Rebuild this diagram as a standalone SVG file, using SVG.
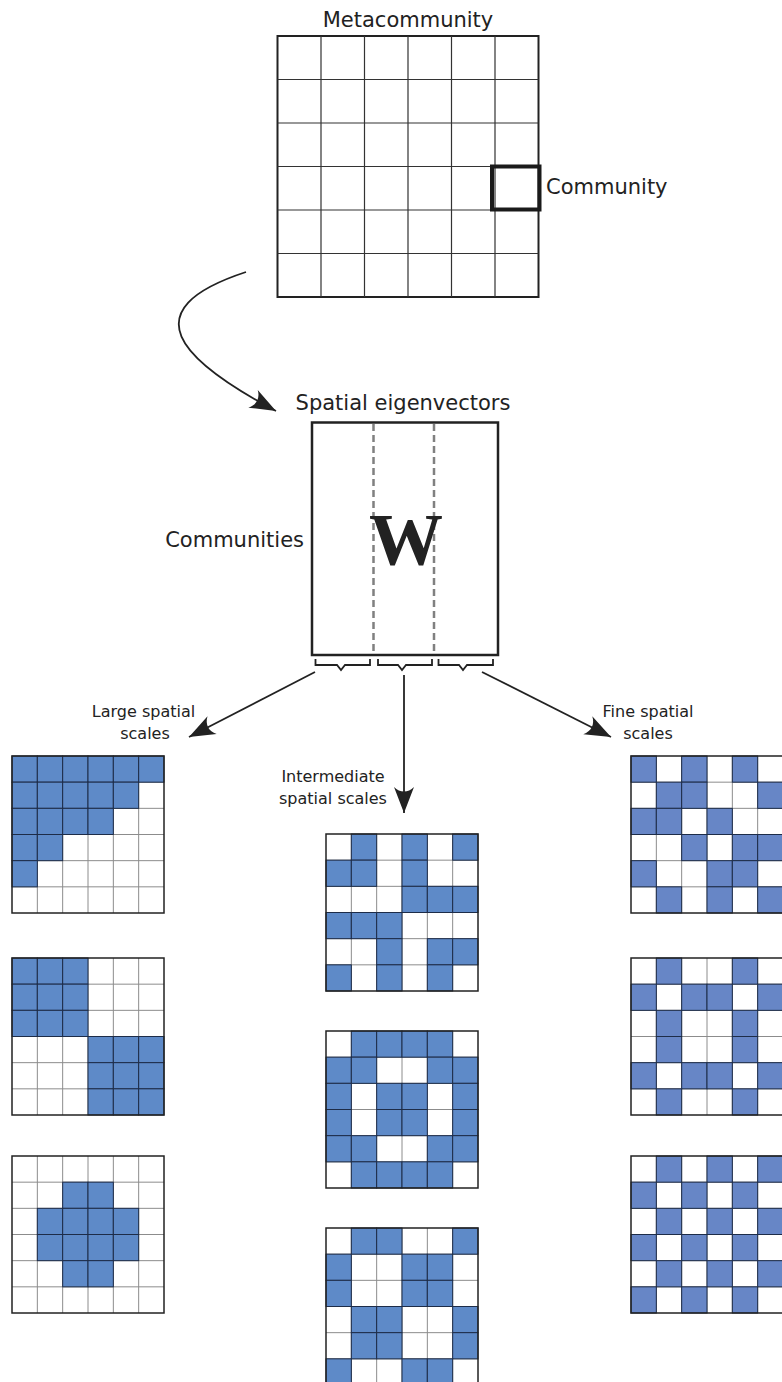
<svg xmlns="http://www.w3.org/2000/svg" xmlns:xlink="http://www.w3.org/1999/xlink" width="782" height="1382" viewBox="0 0 782 1382">
<style>
  .t { font-family: "DejaVu Sans", "Liberation Sans", sans-serif; fill: #222; }
  .lbl { font-size: 21px; }
  .sm { font-size: 16px; text-anchor: middle; }
  .mg { stroke: #333; stroke-width: 1.2; fill: none; }
  .gl { stroke: #8c8c8c; stroke-width: 1; fill: none; }
  .bdr { fill: none; stroke: #222; stroke-width: 1.5; }
  .bg { fill: #fff; }
  .bl use { fill: #5e8ac8; stroke: #1d2c48; stroke-width: 1; }
  .br use { fill: #6786c6; stroke: #1d2c48; stroke-width: 1; }
  .conn { stroke: #222; stroke-width: 1.8; fill: none; }
  .brace { stroke: #222; stroke-width: 1.8; fill: none; stroke-linejoin: miter; }
</style>
<defs>
  <marker id="ah" viewBox="-27 -11 28 22" refX="0" refY="0" markerWidth="28" markerHeight="22" markerUnits="userSpaceOnUse" orient="auto">
    <path d="M0,0 L-26,-10 C-20,-4 -20,4 -26,10 Z" fill="#222"/>
  </marker>
  <rect id="c" width="25.33" height="26.17"/>
  <path id="gridlines" d="M25.33,0V157M50.67,0V157M76,0V157M101.33,0V157M126.67,0V157M0,26.17H152M0,52.33H152M0,78.5H152M0,104.67H152M0,130.83H152"/>
</defs>

<g id="metacommunity">
  <text class="t lbl" x="408" y="27" text-anchor="middle">Metacommunity</text>
  <rect x="277.5" y="36" width="261" height="261" fill="#fff" stroke="#222" stroke-width="2"/>
  <path class="mg" d="M321,36V297M364.5,36V297M408,36V297M451.5,36V297M495,36V297M277.5,79.5H538.5M277.5,123H538.5M277.5,166.5H538.5M277.5,210H538.5M277.5,253.5H538.5"/>
</g>

<g id="community">
  <rect x="492" y="166.5" width="47.5" height="43" fill="none" stroke="#1a1a1a" stroke-width="4"/>
  <text class="t lbl" x="546" y="194">Community</text>
</g>

<g id="eigenvectors">
  <text class="t lbl" x="403" y="410" text-anchor="middle">Spatial eigenvectors</text>
  <text class="t lbl" x="304" y="547" text-anchor="end">Communities</text>
  <rect x="312" y="422.5" width="186" height="232.5" fill="#fff" stroke="#222" stroke-width="2.5"/>
  <path d="M373.5,424V654M434,424V654" stroke="#808080" stroke-width="2.5" stroke-dasharray="7,4" fill="none"/>
  <text x="406" y="565" text-anchor="middle" font-family="'Liberation Serif', 'DejaVu Serif', serif" font-weight="bold" font-size="74" fill="#222">W</text>
  <path class="brace" d="M315.5,659V665H337L341,670L345,665H370V659"/>
  <path class="brace" d="M378,659V665H398L402,670L406,665H432V659"/>
  <path class="brace" d="M438.5,659V665H459L463,670L467,665H493V659"/>
</g>

<g id="connectors">
  <path class="conn" d="M246,272 C130,310 180,360 276,411" marker-end="url(#ah)"/>
  <path class="conn" d="M315,672 L189,737" marker-end="url(#ah)"/>
  <path class="conn" d="M404,675 L404,813" marker-end="url(#ah)"/>
  <path class="conn" d="M482,672 L611,737" marker-end="url(#ah)"/>
</g>

<g id="labels">
  <text class="t sm" x="143.5" y="717">Large spatial</text>
  <text class="t sm" x="145" y="739">scales</text>
  <text class="t sm" x="333" y="782">Intermediate</text>
  <text class="t sm" x="333" y="804">spatial scales</text>
  <text class="t sm" x="648" y="717">Fine spatial</text>
  <text class="t sm" x="648" y="739">scales</text>
</g>

<g id="large1" transform="translate(12,756)">
  <rect class="bg" width="152" height="157"/>
  <use href="#gridlines" class="gl"/>
  <g class="bl">
    <use href="#c" x="0" y="0"/><use href="#c" x="25.33" y="0"/><use href="#c" x="50.67" y="0"/><use href="#c" x="76" y="0"/><use href="#c" x="101.33" y="0"/><use href="#c" x="126.67" y="0"/>
    <use href="#c" x="0" y="26.17"/><use href="#c" x="25.33" y="26.17"/><use href="#c" x="50.67" y="26.17"/><use href="#c" x="76" y="26.17"/><use href="#c" x="101.33" y="26.17"/>
    <use href="#c" x="0" y="52.33"/><use href="#c" x="25.33" y="52.33"/><use href="#c" x="50.67" y="52.33"/><use href="#c" x="76" y="52.33"/>
    <use href="#c" x="0" y="78.5"/><use href="#c" x="25.33" y="78.5"/>
    <use href="#c" x="0" y="104.67"/>
  </g>
  <rect class="bdr" width="152" height="157"/>
</g>

<g id="large2" transform="translate(12,958)">
  <rect class="bg" width="152" height="157"/>
  <use href="#gridlines" class="gl"/>
  <g class="bl">
    <use href="#c" x="0" y="0"/><use href="#c" x="25.33" y="0"/><use href="#c" x="50.67" y="0"/>
    <use href="#c" x="0" y="26.17"/><use href="#c" x="25.33" y="26.17"/><use href="#c" x="50.67" y="26.17"/>
    <use href="#c" x="0" y="52.33"/><use href="#c" x="25.33" y="52.33"/><use href="#c" x="50.67" y="52.33"/>
    <use href="#c" x="76" y="78.5"/><use href="#c" x="101.33" y="78.5"/><use href="#c" x="126.67" y="78.5"/>
    <use href="#c" x="76" y="104.67"/><use href="#c" x="101.33" y="104.67"/><use href="#c" x="126.67" y="104.67"/>
    <use href="#c" x="76" y="130.83"/><use href="#c" x="101.33" y="130.83"/><use href="#c" x="126.67" y="130.83"/>
  </g>
  <rect class="bdr" width="152" height="157"/>
</g>

<g id="large3" transform="translate(12,1156)">
  <rect class="bg" width="152" height="157"/>
  <use href="#gridlines" class="gl"/>
  <g class="bl">
    <use href="#c" x="50.67" y="26.17"/><use href="#c" x="76" y="26.17"/>
    <use href="#c" x="25.33" y="52.33"/><use href="#c" x="50.67" y="52.33"/><use href="#c" x="76" y="52.33"/><use href="#c" x="101.33" y="52.33"/>
    <use href="#c" x="25.33" y="78.5"/><use href="#c" x="50.67" y="78.5"/><use href="#c" x="76" y="78.5"/><use href="#c" x="101.33" y="78.5"/>
    <use href="#c" x="50.67" y="104.67"/><use href="#c" x="76" y="104.67"/>
  </g>
  <rect class="bdr" width="152" height="157"/>
</g>

<g id="inter1" transform="translate(326,834)">
  <rect class="bg" width="152" height="157"/>
  <use href="#gridlines" class="gl"/>
  <g class="bl">
    <use href="#c" x="25.33" y="0"/><use href="#c" x="76" y="0"/><use href="#c" x="126.67" y="0"/>
    <use href="#c" x="0" y="26.17"/><use href="#c" x="25.33" y="26.17"/><use href="#c" x="76" y="26.17"/>
    <use href="#c" x="76" y="52.33"/><use href="#c" x="101.33" y="52.33"/><use href="#c" x="126.67" y="52.33"/>
    <use href="#c" x="0" y="78.5"/><use href="#c" x="25.33" y="78.5"/><use href="#c" x="50.67" y="78.5"/>
    <use href="#c" x="50.67" y="104.67"/><use href="#c" x="101.33" y="104.67"/><use href="#c" x="126.67" y="104.67"/>
    <use href="#c" x="0" y="130.83"/><use href="#c" x="50.67" y="130.83"/><use href="#c" x="101.33" y="130.83"/>
  </g>
  <rect class="bdr" width="152" height="157"/>
</g>

<g id="inter2" transform="translate(326,1031)">
  <rect class="bg" width="152" height="157"/>
  <use href="#gridlines" class="gl"/>
  <g class="bl">
    <use href="#c" x="25.33" y="0"/><use href="#c" x="50.67" y="0"/><use href="#c" x="76" y="0"/><use href="#c" x="101.33" y="0"/>
    <use href="#c" x="0" y="26.17"/><use href="#c" x="25.33" y="26.17"/><use href="#c" x="101.33" y="26.17"/><use href="#c" x="126.67" y="26.17"/>
    <use href="#c" x="0" y="52.33"/><use href="#c" x="50.67" y="52.33"/><use href="#c" x="76" y="52.33"/><use href="#c" x="126.67" y="52.33"/>
    <use href="#c" x="0" y="78.5"/><use href="#c" x="50.67" y="78.5"/><use href="#c" x="76" y="78.5"/><use href="#c" x="126.67" y="78.5"/>
    <use href="#c" x="0" y="104.67"/><use href="#c" x="25.33" y="104.67"/><use href="#c" x="101.33" y="104.67"/><use href="#c" x="126.67" y="104.67"/>
    <use href="#c" x="25.33" y="130.83"/><use href="#c" x="50.67" y="130.83"/><use href="#c" x="76" y="130.83"/><use href="#c" x="101.33" y="130.83"/>
  </g>
  <rect class="bdr" width="152" height="157"/>
</g>

<g id="inter3" transform="translate(326,1228)">
  <rect class="bg" width="152" height="157"/>
  <use href="#gridlines" class="gl"/>
  <g class="bl">
    <use href="#c" x="25.33" y="0"/><use href="#c" x="50.67" y="0"/><use href="#c" x="126.67" y="0"/>
    <use href="#c" x="0" y="26.17"/><use href="#c" x="76" y="26.17"/><use href="#c" x="101.33" y="26.17"/>
    <use href="#c" x="0" y="52.33"/><use href="#c" x="76" y="52.33"/><use href="#c" x="101.33" y="52.33"/>
    <use href="#c" x="25.33" y="78.5"/><use href="#c" x="50.67" y="78.5"/><use href="#c" x="126.67" y="78.5"/>
    <use href="#c" x="25.33" y="104.67"/><use href="#c" x="50.67" y="104.67"/><use href="#c" x="126.67" y="104.67"/>
    <use href="#c" x="0" y="130.83"/><use href="#c" x="76" y="130.83"/><use href="#c" x="101.33" y="130.83"/>
  </g>
  <rect class="bdr" width="152" height="157"/>
</g>

<g id="fine1" transform="translate(631,756)">
  <rect class="bg" width="152" height="157"/>
  <use href="#gridlines" class="gl"/>
  <g class="br">
    <use href="#c" x="0" y="0"/><use href="#c" x="50.67" y="0"/><use href="#c" x="101.33" y="0"/>
    <use href="#c" x="25.33" y="26.17"/><use href="#c" x="50.67" y="26.17"/><use href="#c" x="126.67" y="26.17"/>
    <use href="#c" x="0" y="52.33"/><use href="#c" x="25.33" y="52.33"/><use href="#c" x="76" y="52.33"/>
    <use href="#c" x="50.67" y="78.5"/><use href="#c" x="101.33" y="78.5"/><use href="#c" x="126.67" y="78.5"/>
    <use href="#c" x="0" y="104.67"/><use href="#c" x="76" y="104.67"/><use href="#c" x="101.33" y="104.67"/>
    <use href="#c" x="25.33" y="130.83"/><use href="#c" x="76" y="130.83"/><use href="#c" x="126.67" y="130.83"/>
  </g>
  <rect class="bdr" width="152" height="157"/>
</g>

<g id="fine2" transform="translate(631,958)">
  <rect class="bg" width="152" height="157"/>
  <use href="#gridlines" class="gl"/>
  <g class="br">
    <use href="#c" x="25.33" y="0"/><use href="#c" x="101.33" y="0"/>
    <use href="#c" x="0" y="26.17"/><use href="#c" x="50.67" y="26.17"/><use href="#c" x="76" y="26.17"/><use href="#c" x="126.67" y="26.17"/>
    <use href="#c" x="25.33" y="52.33"/><use href="#c" x="101.33" y="52.33"/>
    <use href="#c" x="25.33" y="78.5"/><use href="#c" x="101.33" y="78.5"/>
    <use href="#c" x="0" y="104.67"/><use href="#c" x="50.67" y="104.67"/><use href="#c" x="76" y="104.67"/><use href="#c" x="126.67" y="104.67"/>
    <use href="#c" x="25.33" y="130.83"/><use href="#c" x="101.33" y="130.83"/>
  </g>
  <rect class="bdr" width="152" height="157"/>
</g>

<g id="fine3" transform="translate(631,1156)">
  <rect class="bg" width="152" height="157"/>
  <use href="#gridlines" class="gl"/>
  <g class="br">
    <use href="#c" x="25.33" y="0"/><use href="#c" x="76" y="0"/><use href="#c" x="126.67" y="0"/>
    <use href="#c" x="0" y="26.17"/><use href="#c" x="50.67" y="26.17"/><use href="#c" x="101.33" y="26.17"/>
    <use href="#c" x="25.33" y="52.33"/><use href="#c" x="76" y="52.33"/><use href="#c" x="126.67" y="52.33"/>
    <use href="#c" x="0" y="78.5"/><use href="#c" x="50.67" y="78.5"/><use href="#c" x="101.33" y="78.5"/>
    <use href="#c" x="25.33" y="104.67"/><use href="#c" x="76" y="104.67"/><use href="#c" x="126.67" y="104.67"/>
    <use href="#c" x="0" y="130.83"/><use href="#c" x="50.67" y="130.83"/><use href="#c" x="101.33" y="130.83"/>
  </g>
  <rect class="bdr" width="152" height="157"/>
</g>
</svg>
